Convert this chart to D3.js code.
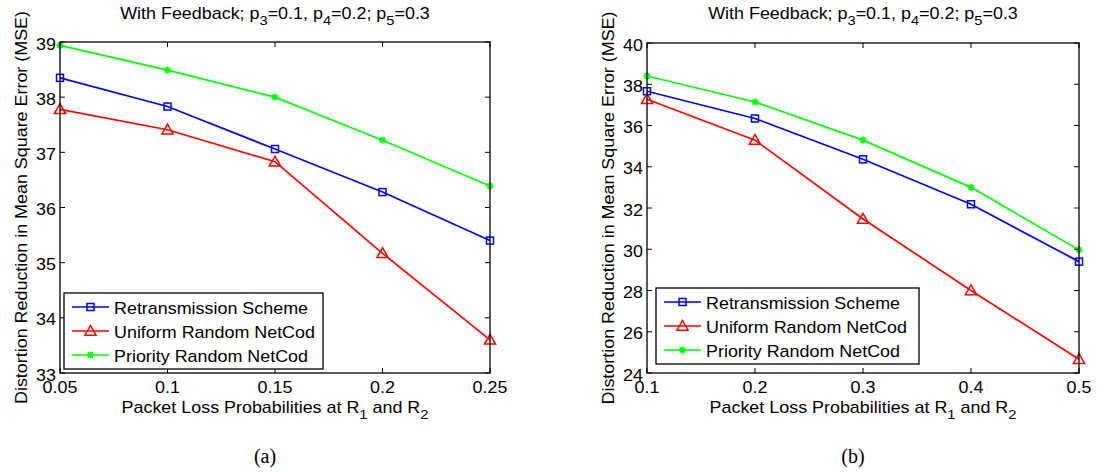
<!DOCTYPE html>
<html>
<head>
<meta charset="utf-8">
<script src="https://cdn.jsdelivr.net/npm/d3@7"></script>
<style>
  html, body { margin: 0; padding: 0; background: #fff; }
  svg { display: block; }
  text { fill: #000; }
</style>
</head>
<body>
<svg id="chart" width="1108" height="474"></svg>
<script>
// Packet loss probabilities at R1 and R2 (x values) for each panel
const lossA = [0.05, 0.1, 0.15, 0.2, 0.25];
const lossB = [0.1, 0.2, 0.3, 0.4, 0.5];

// Distortion reduction (MSE), panel (a)
const retransA = [38.35, 37.83, 37.06, 36.28, 35.40];
const uniformA = [37.78, 37.41, 36.83, 35.17, 33.60];
const priorityA = [38.94, 38.49, 38.00, 37.22, 36.39];

// Distortion reduction (MSE), panel (b)
const retransB = [37.66, 36.34, 34.36, 32.18, 29.40];
const uniformB = [37.27, 35.29, 31.47, 28.00, 24.67];
const priorityB = [38.40, 37.14, 35.29, 33.00, 29.97];

// Tick labels
const xTicksA = ["0.05", "0.1", "0.15", "0.2", "0.25"];
const yTicksA = [33, 34, 35, 36, 37, 38, 39];
const xTicksB = ["0.1", "0.2", "0.3", "0.4", "0.5"];
const yTicksB = [24, 26, 28, 30, 32, 34, 36, 38, 40];

const seriesNames = ["Retransmission Scheme", "Uniform Random NetCod", "Priority Random NetCod"];
const seriesColors = ["#0000ff", "#ff0000", "#00ff00"];
const seriesMarkers = ["square", "triangle", "star"];

const SANS = "'Liberation Sans', Arial, Helvetica, sans-serif";
const SERIF = "'Liberation Serif', 'Times New Roman', serif";
const FS = 16;          // base font size
const STRETCH = 1.12;   // horizontal widening of the sans text

const svg = d3.select("#chart");

// Sans text, slightly widened; extra transform (e.g. rotation) applied before the widening
function label(parent, x, y, anchor, extra) {
  const g = parent.append("g")
    .attr("transform", `translate(${x},${y})${extra ? " " + extra : ""} scale(${STRETCH},1)`);
  return g.append("text").attr("x", 0).attr("y", 0).attr("text-anchor", anchor)
    .style("font-family", SANS).style("font-size", FS + "px");
}

function marker(g, type, x, y, color) {
  if (type === "square") {
    g.append("rect").attr("x", x - 3.5).attr("y", y - 3.5).attr("width", 7).attr("height", 7)
      .attr("fill", "none").attr("stroke", color).attr("stroke-width", 1.5);
  } else if (type === "triangle") {
    const s = 5.6;
    g.append("path")
      .attr("d", `M${x},${y - s}L${x + s},${y + s * 0.75}L${x - s},${y + s * 0.75}Z`)
      .attr("fill", "none").attr("stroke", color).attr("stroke-width", 1.5);
  } else {
    const r = 3.6;
    for (let k = 0; k < 4; k++) {
      const a = k * Math.PI / 4;
      g.append("line")
        .attr("x1", x - r * Math.cos(a)).attr("y1", y - r * Math.sin(a))
        .attr("x2", x + r * Math.cos(a)).attr("y2", y + r * Math.sin(a))
        .attr("stroke", color).attr("stroke-width", 1.7);
    }
  }
}

// Text with subscripts: parts are [text, isSubscript]
function subText(sel, parts) {
  const drop = 6;
  let shifted = false;
  parts.forEach(([t, sub]) => {
    const ts = sel.append("tspan").text(t);
    if (sub) {
      ts.attr("dy", drop).style("font-size", (FS * 0.82) + "px");
      shifted = true;
    } else if (shifted) {
      ts.attr("dy", -drop);
      shifted = false;
    }
  });
}

function panel(opt) {
  const { left, right, top, bottom, xVals, xDomain, xTicks, yDomain, yTicks, series, legend, caption } = opt;
  const g = svg.append("g");
  const x = d3.scaleLinear().domain(xDomain).range([left, right]);
  const y = d3.scaleLinear().domain(yDomain).range([bottom, top]);

  // Series lines and markers
  series.forEach((vals, i) => {
    const line = d3.line().x((d, j) => x(xVals[j])).y(d => y(d));
    g.append("path").datum(vals).attr("d", line)
      .attr("fill", "none").attr("stroke", seriesColors[i]).attr("stroke-width", 1.7);
  });
  series.forEach((vals, i) => {
    vals.forEach((v, j) => marker(g, seriesMarkers[i], x(xVals[j]), y(v), seriesColors[i]));
  });

  // Axes box
  g.append("rect").attr("x", left).attr("y", top).attr("width", right - left).attr("height", bottom - top)
    .attr("fill", "none").attr("stroke", "#000").attr("stroke-width", 1.3);

  // Inward ticks on all four sides
  const tl = 5;
  xVals.forEach((v, j) => {
    g.append("line").attr("x1", x(v)).attr("x2", x(v)).attr("y1", bottom).attr("y2", bottom - tl).attr("stroke", "#000");
    g.append("line").attr("x1", x(v)).attr("x2", x(v)).attr("y1", top).attr("y2", top + tl).attr("stroke", "#000");
    label(g, x(v), bottom + 20, "middle").text(xTicks[j]);
  });
  yTicks.forEach(v => {
    g.append("line").attr("x1", left).attr("x2", left + tl).attr("y1", y(v)).attr("y2", y(v)).attr("stroke", "#000");
    g.append("line").attr("x1", right).attr("x2", right - tl).attr("y1", y(v)).attr("y2", y(v)).attr("stroke", "#000");
    label(g, left - 4, y(v) + 7.5, "end").text(v);
  });

  // Title
  const cx = (left + right) / 2;
  subText(label(g, cx, 18.5, "middle"),
    [["With Feedback; p", false], ["3", true], ["=0.1, p", false], ["4", true], ["=0.2; p", false], ["5", true], ["=0.3", false]]);

  // X label
  subText(label(g, cx, bottom + 40, "middle"),
    [["Packet Loss Probabilities at R", false], ["1", true], [" and R", false], ["2", true]]);

  // Y label
  label(g, left - 33, (top + bottom) / 2, "middle", "rotate(-90)")
    .text("Distortion Reduction in Mean Square Error (MSE)");

  // Legend
  const lg = g.append("g");
  lg.append("rect").attr("x", legend.x).attr("y", legend.y).attr("width", legend.w).attr("height", legend.h)
    .attr("fill", "#fff").attr("stroke", "#000").attr("stroke-width", 1.3);
  seriesNames.forEach((name, i) => {
    const ly = legend.y + 14 + i * 24;
    lg.append("line").attr("x1", legend.x + 8).attr("x2", legend.x + 45).attr("y1", ly).attr("y2", ly)
      .attr("stroke", seriesColors[i]).attr("stroke-width", 1.7);
    marker(lg, seriesMarkers[i], legend.x + 26.5, ly, seriesColors[i]);
    label(lg, legend.x + 50, ly + 7.3, "start").text(name);
  });

  // Caption
  g.append("text").attr("x", cx - 10).attr("y", 463).attr("text-anchor", "middle")
    .style("font-family", SERIF).style("font-size", "20px").text(caption);
}

panel({
  left: 60, right: 490, top: 42, bottom: 373,
  xVals: lossA, xDomain: [0.05, 0.25], xTicks: xTicksA,
  yDomain: [33, 39], yTicks: yTicksA,
  series: [retransA, uniformA, priorityA],
  legend: { x: 64, y: 293, w: 259, h: 76 },
  caption: "(a)"
});

panel({
  left: 647, right: 1079, top: 43, bottom: 373,
  xVals: lossB, xDomain: [0.1, 0.5], xTicks: xTicksB,
  yDomain: [24, 40], yTicks: yTicksB,
  series: [retransB, uniformB, priorityB],
  legend: { x: 656, y: 288, w: 263, h: 76 },
  caption: "(b)"
});
</script>
</body>
</html>
